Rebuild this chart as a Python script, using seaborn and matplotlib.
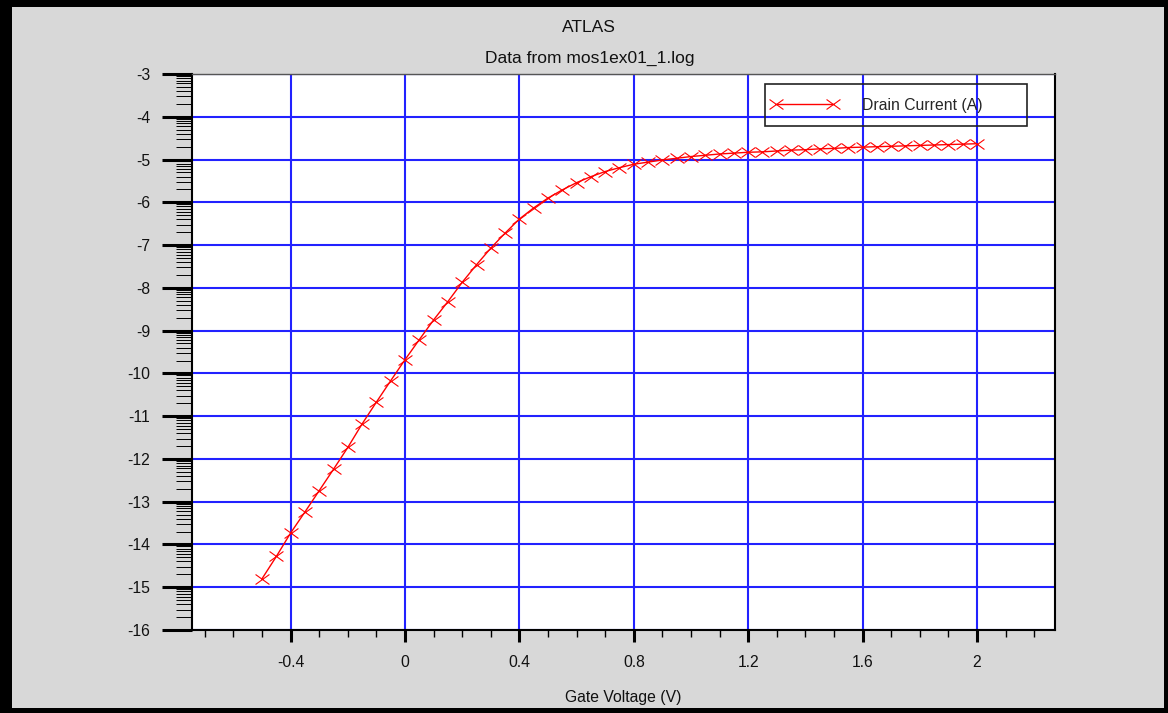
import numpy as np
import pandas as pd
import matplotlib
matplotlib.use("Agg")
import matplotlib.pyplot as plt
import seaborn as sns
from matplotlib.path import Path
from matplotlib.patches import Rectangle
from matplotlib.ticker import FixedLocator, MultipleLocator

# ---------------- data ----------------
gate_voltage = [-0.5, -0.45, -0.4, -0.35, -0.3, -0.25, -0.2, -0.15, -0.1, -0.05,
                0.0, 0.05, 0.1, 0.15, 0.2, 0.25, 0.3, 0.35, 0.4, 0.45,
                0.5, 0.55, 0.6, 0.65, 0.7, 0.75, 0.8, 0.85, 0.9, 0.95,
                1.0, 1.05, 1.1, 1.15, 1.2, 1.25, 1.3, 1.35, 1.4, 1.45,
                1.5, 1.55, 1.6, 1.65, 1.7, 1.75, 1.8, 1.85, 1.9, 1.95, 2.0]
drain_current_log = [-14.80, -14.28, -13.73, -13.24, -12.74, -12.24, -11.73, -11.18, -10.67, -10.17,
                     -9.68, -9.21, -8.75, -8.32, -7.87, -7.46, -7.07, -6.72, -6.39, -6.13,
                     -5.90, -5.71, -5.54, -5.40, -5.28, -5.19, -5.11, -5.06, -5.01, -4.97,
                     -4.93, -4.90, -4.87, -4.85, -4.83, -4.82, -4.80, -4.78, -4.77, -4.75,
                     -4.74, -4.72, -4.71, -4.70, -4.69, -4.68, -4.67, -4.66, -4.65, -4.64, -4.63]

x_ticks = [-0.4, 0.0, 0.4, 0.8, 1.2, 1.6, 2.0]
x_tick_labels = ["-0.4", "0", "0.4", "0.8", "1.2", "1.6", "2"]
y_ticks = [-16, -15, -14, -13, -12, -11, -10, -9, -8, -7, -6, -5, -4, -3]
y_tick_labels = [str(v) for v in y_ticks]

title_main = "ATLAS"
title_sub = "Data from mos1ex01_1.log"
x_label = "Gate Voltage (V)"
series_label = "Drain Current (A)"

# ---------------- style ----------------
sns.set_theme(style="white")
plt.rcParams["font.family"] = ["Liberation Sans", "DejaVu Sans"]

W, H = 1168, 713
fig = plt.figure(figsize=(W / 100, H / 100), dpi=100, facecolor="#d8d8d8")
ax = fig.add_axes([192 / W, 1 - 630 / H, 863 / W, 556 / H])
ax.set_facecolor("white")
ax.set_axisbelow(True)

df = pd.DataFrame({"gate": gate_voltage, "ilog": drain_current_log})

xmark = Path([(-1, -0.72), (1, 0.72), (-1, 0.72), (1, -0.72)],
             [Path.MOVETO, Path.LINETO, Path.MOVETO, Path.LINETO])

sns.lineplot(data=df, x="gate", y="ilog", ax=ax, color="red", linewidth=1.0,
             marker=xmark, markersize=10, markeredgecolor="red",
             markeredgewidth=0.8, markerfacecolor="none",
             estimator=None, sort=False, label=series_label)

ax.set_xlim(-0.745, 2.273)
ax.set_ylim(-16, -3)

ax.set_xticks(x_ticks)
ax.set_xticklabels(x_tick_labels)
ax.xaxis.set_minor_locator(MultipleLocator(0.1))
ax.set_yticks(y_ticks)
ax.set_yticklabels(y_tick_labels)
minor_y = [d + np.log10(k) for d in range(-16, -3) for k in range(2, 10)]
ax.yaxis.set_minor_locator(FixedLocator(minor_y))

ax.tick_params(axis="x", which="major", direction="out", bottom=True, length=8.6,
               width=2.2, pad=9.5, labelsize=11.3, color="black", labelcolor="#111111")
ax.tick_params(axis="x", which="minor", direction="out", bottom=True, length=5,
               width=1.0, color="black")
ax.tick_params(axis="y", which="major", direction="out", left=True, length=21.6,
               width=2.2, pad=8.6, labelsize=11.3, color="black", labelcolor="#111111")
ax.tick_params(axis="y", which="minor", direction="out", left=True, length=11.5,
               width=0.7, color="black")

ax.grid(True, which="major", color="#2222ff", linewidth=1.5)
ax.grid(False, which="minor")

for side in ["left", "bottom", "right"]:
    ax.spines[side].set_color("black")
    ax.spines[side].set_linewidth(1.5)
ax.spines["top"].set_color("#555555")
ax.spines["top"].set_linewidth(1.0)

ax.set_xlabel(x_label, fontsize=11.3, color="#111111", labelpad=14.5)
ax.set_ylabel("")

# legend
ax.add_patch(Rectangle((0.664, 0.9065), 0.3035, 0.0755, transform=ax.transAxes,
                       fill=False, edgecolor="#222222", linewidth=1.2, zorder=5))
handles, labels = ax.get_legend_handles_labels()
ax.legend(handles, labels, loc="center left", bbox_to_anchor=(0.6709, 0.9442),
          frameon=False, borderpad=0, borderaxespad=0, numpoints=2,
          handlelength=4.27, handletextpad=1.53, fontsize=11.3)

# titles
fig.text(589 / W, 1 - 27 / H, title_main, ha="center", va="center", fontsize=12.5, color="#111111")
fig.text(590 / W, 1 - 58 / H, title_sub, ha="center", va="center", fontsize=12.5, color="#111111")

# black outer frame
for (x0, y0, w, h) in [(0, 0, 12, H), (0, 0, W, 5), (W - 4, 0, 4, H), (0, H - 7, W, 7)]:
    fig.add_artist(Rectangle((x0 / W, y0 / H), w / W, h / H, transform=fig.transFigure,
                             facecolor="black", edgecolor="none"))

fig.savefig("out.png", dpi=100, facecolor=fig.get_facecolor())
